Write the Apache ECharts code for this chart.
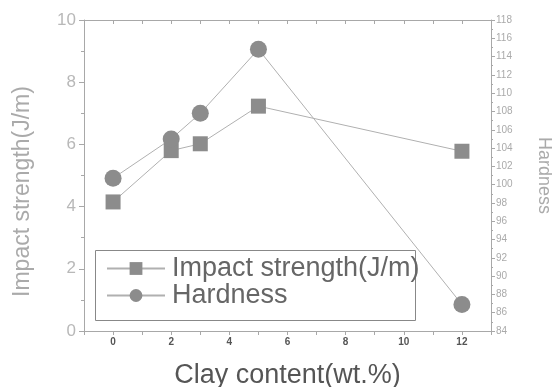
<!DOCTYPE html>
<html><head><meta charset="utf-8">
<script src="https://cdn.jsdelivr.net/npm/echarts@6/dist/echarts.min.js"></script>
<style>html,body{margin:0;padding:0;background:#fff}#c{width:552px;height:387px}</style>
</head><body><div id="c"></div>
<script>
const clay = [0, 2, 3, 5, 12];
const impact = [4.15, 5.8, 6.02, 7.23, 5.78];
const hardness = [100.7, 105.0, 107.8, 114.8, 86.9];

const ax = '#a8a8a8';
const chart = echarts.init(document.getElementById('c'));
chart.setOption({
  animation: false,
  grid: {left: 84, right: 61, top: 20, bottom: 56, containLabel: false, outerBoundsMode: 'none'},
  graphic: [{
    type: 'rect', left: 93, top: 248, z: 0,
    shape: {width: 320, height: 70},
    style: {fill: 'none', stroke: '#888', lineWidth: 1}
  }],
  legend: {
    orient: 'vertical', left: 106, top: 255,
    padding: 0, itemGap: 0, itemWidth: 58, itemHeight: 16,
    textStyle: {fontSize: 27, lineHeight: 26, color: '#666', fontFamily: 'Liberation Sans', padding: [0, 0, 0, 2]},
    data: ['Impact strength(J/m)', 'Hardness']
  },
  xAxis: [{
    type: 'value', min: -1, max: 13, interval: 1,
    name: 'Clay content(wt.%)', nameLocation: 'middle', nameGap: 31,
    nameTextStyle: {fontSize: 27, color: '#555', fontFamily: 'Liberation Sans'},
    axisLine: {onZero: false, lineStyle: {color: ax}},
    axisTick: {lineStyle: {color: ax}, length: 4},
    axisLabel: {fontSize: 10, color: '#555', fontWeight: 'bold', margin: 6,
      formatter: v => (v >= 0 && v % 2 === 0) ? String(v) : ''},
    splitLine: {show: false}
  }, {
    type: 'value', min: -1, max: 13, interval: 1, position: 'top',
    axisLine: {onZero: false, lineStyle: {color: ax}},
    axisTick: {inside: true, lineStyle: {color: ax}, length: 4},
    axisLabel: {show: false}, splitLine: {show: false}
  }],
  yAxis: [{
    type: 'value', min: 0, max: 10, interval: 2,
    name: 'Impact strength(J/m)', nameLocation: 'middle', nameGap: 50,
    nameTextStyle: {fontSize: 23, color: '#aaa', fontFamily: 'Liberation Sans', padding: [0, 32, 0, 0]},
    axisLine: {show: true, onZero: false, lineStyle: {color: ax}},
    axisTick: {show: true, lineStyle: {color: ax}, length: 5},
    minorTick: {show: true, splitNumber: 2, length: 3, lineStyle: {color: ax}},
    axisLabel: {fontSize: 17, color: '#b8b8b8', margin: 8},
    splitLine: {show: false}
  }, {
    type: 'value', min: 84, max: 118, interval: 2, position: 'right',
    name: 'Hardness', nameLocation: 'middle', nameGap: 44, nameRotate: -90,
    nameTextStyle: {fontSize: 18, color: '#aaa', fontFamily: 'Liberation Sans'},
    axisLine: {show: true, onZero: false, lineStyle: {color: ax}},
    axisTick: {show: true, lineStyle: {color: ax}, length: 4},
    minorTick: {show: true, splitNumber: 2, length: 2, lineStyle: {color: ax}},
    axisLabel: {fontSize: 10, color: '#aaa', margin: 5},
    splitLine: {show: false}
  }],
  series: [{
    name: 'Impact strength(J/m)', type: 'line', yAxisIndex: 0,
    data: clay.map((x, i) => [x, impact[i]]),
    symbol: 'rect', symbolSize: 15,
    itemStyle: {color: '#8c8c8c'},
    lineStyle: {color: '#b0b0b0', width: 1}
  }, {
    name: 'Hardness', type: 'line', yAxisIndex: 1,
    data: clay.map((x, i) => [x, hardness[i]]),
    symbol: 'circle', symbolSize: 17,
    itemStyle: {color: '#8c8c8c'},
    lineStyle: {color: '#b0b0b0', width: 1}
  }]
});
</script></body></html>
